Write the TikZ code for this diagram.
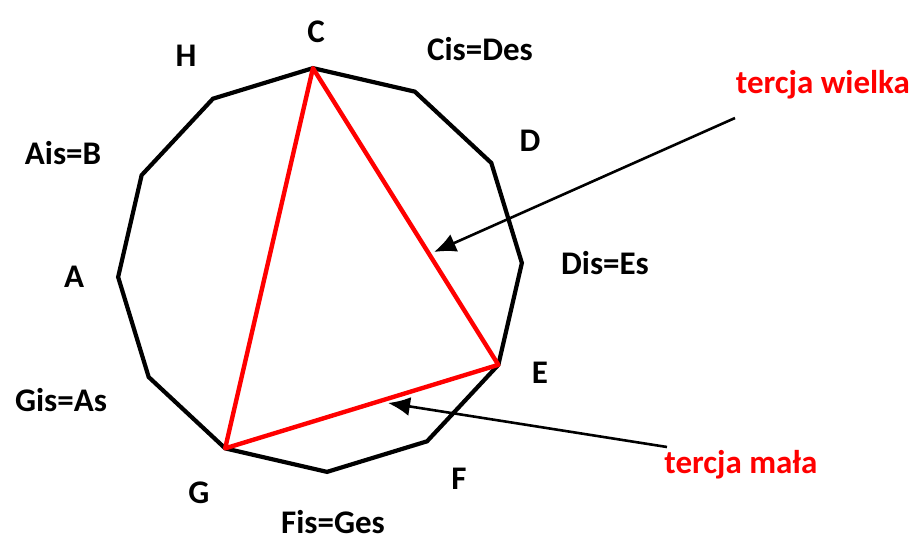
\documentclass[tikz,border=0pt]{standalone}
\usepackage{fontspec}
\setmainfont{Carlito}
\usepackage{xcolor}
\usepackage{tikz}
\usetikzlibrary{arrows.meta}

\begin{document}
\begin{tikzpicture}[
    x=1pt, y=-1pt,
    note/.style={anchor=base, inner sep=0pt, font=\fontsize{33}{38}\selectfont\bfseries},
    third/.style={note, text=red},
    circle12/.style={draw=black, line width=4.2pt},
    triad/.style={draw=red, line width=4.4pt, line join=round},
    arrow/.style={-{Latex[length=22pt, width=19pt]}, line width=2.6pt}
]
\useasboundingbox (0,0) rectangle (911,542);
% vertices of the circle of fifths polygon
\begin{scope}[shift={(320,270)}]
\coordinate (C)   at (-92:202);
\coordinate (Cis) at (-62:202);
\coordinate (D)   at (-32:202);
\coordinate (Dis) at (-2:202);
\coordinate (E)   at (28:202);
\coordinate (F)   at (58:202);
\coordinate (Fis) at (88:202);
\coordinate (G)   at (118:202);
\coordinate (Gis) at (148:202);
\coordinate (A)   at (178:202);
\coordinate (Ais) at (208:202);
\coordinate (H)   at (238:202);
\end{scope}
\draw[circle12] (C) -- (Cis) -- (D) -- (Dis) -- (E) -- (F) -- (Fis) -- (G) -- (Gis) -- (A) -- (Ais) -- (H) -- cycle;
\draw[triad] (C) -- (E) -- (G) -- cycle;
% note names
\node[note] (C-lab)   at (316,42)  {C};
\node[note] (Cis-lab) at (480,60)  {Cis=Des};
\node[note] (D-lab)   at (530,151) {D};
\node[note] (Dis-lab) at (605,274) {Dis=Es};
\node[note] (E-lab)   at (540,383) {E};
\node[note] (F-lab)   at (459,489) {F};
\node[note] (Fis-lab) at (333,533) {Fis=Ges};
\node[note] (G-lab)   at (199,503) {G};
\node[note] (Gis-lab) at (61,411)  {Gis=As};
\node[note] (A-lab)   at (74,287)  {A};
\node[note] (Ais-lab) at (63,164)  {Ais=B};
\node[note] (H-lab)   at (186,66)  {H};
% intervals
\node[third] (major) at (823,93)  {tercja wielka};
\node[third] (minor) at (741,473) {tercja mała};
\coordinate (major-from) at (735,118);
\coordinate (major-to)   at (434,252);
\coordinate (minor-from) at (667,447);
\coordinate (minor-to)   at (388,403);
\draw[arrow] (major-from) -- (major-to);
\draw[arrow] (minor-from) -- (minor-to);
\end{tikzpicture}
\end{document}
